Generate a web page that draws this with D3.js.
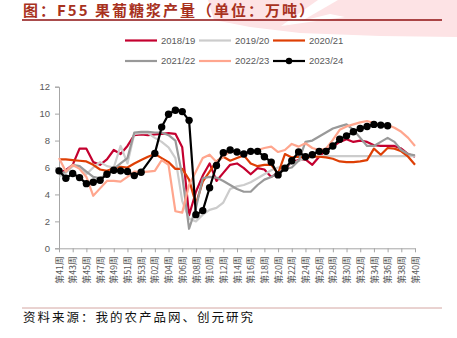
<!DOCTYPE html>
<html>
<head>
<meta charset="utf-8">
<script src="https://cdn.jsdelivr.net/npm/d3@7"></script>
<style>
  html, body { margin: 0; padding: 0; background: #fff; }
  svg { display: block; }
</style>
</head>
<body>
<svg id="chart" width="457" height="338"></svg>
<script>
// Marketing-year weeks: week 41 .. week 53, then week 01 .. week 40
const weeks = [41,42,43,44,45,46,47,48,49,50,51,52,53,1,2,3,4,5,6,7,8,9,10,11,12,13,14,15,16,17,18,19,20,21,22,23,24,25,26,27,28,29,30,31,32,33,34,35,36,37,38,39,40];
const weekLabels = weeks.map(w => "第" + String(w).padStart(2, "0") + "周");

const seasons = ["2018/19", "2019/20", "2020/21", "2021/22", "2022/23", "2023/24"];
const seasonColors = ["#C4002F", "#CCCCCC", "#DE3F05", "#999999", "#FFA68E", "#000000"];

// weekly output, 10k tonnes
const s2018 = [5.6,5.8,6.2,7.4,7.4,6.4,6.2,6.6,7.3,7.0,7.6,8.4,8.45,8.4,8.45,8.5,8.55,8.5,7.5,2.45,4.2,5.4,6.3,5.0,5.6,6.2,6.3,5.95,5.5,5.95,5.85,5.3,5.6,5.9,6.4,6.55,6.6,6.2,6.8,7.3,7.55,7.9,8.1,7.9,8.0,7.9,7.65,7.6,7.6,7.6,7.4,7.0,6.8];
const s2019 = [5.3,5.6,6.1,6.1,5.5,6.0,6.4,6.1,6.0,7.6,6.3,8.5,8.55,8.55,8.2,7.9,7.5,6.7,3.5,2.2,2.0,2.5,2.85,3.0,3.4,4.4,4.6,4.7,4.9,5.2,5.5,5.8,6.0,6.1,6.3,6.5,6.65,6.8,6.85,6.85,6.85,6.85,6.85,6.85,6.85,6.85,6.85,6.85,6.85,6.85,6.85,6.85,6.85];
const s2020 = [6.6,6.6,6.55,6.5,6.45,6.2,5.85,5.75,5.95,6.05,6.0,6.3,6.55,6.8,7.0,6.7,6.4,5.9,5.9,5.1,3.3,4.95,5.7,6.45,6.8,6.5,6.7,6.9,6.3,6.1,6.2,6.2,5.55,7.0,6.75,6.8,6.75,6.8,6.8,6.75,6.65,6.45,6.4,6.4,6.45,6.55,7.4,6.95,7.45,7.4,7.2,6.8,6.2];
const s2021 = [5.5,5.7,6.2,6.1,5.7,5.3,5.2,5.5,5.9,6.3,6.7,8.6,8.65,8.65,8.6,8.6,8.4,8.0,5.4,1.45,3.0,5.2,5.3,5.25,5.0,4.7,4.4,4.2,4.2,4.7,5.1,5.3,5.6,5.9,6.0,6.5,7.9,8.0,8.3,8.6,8.9,9.05,9.2,8.8,8.2,7.6,7.6,7.9,8.2,7.9,7.3,7.0,6.9];
const s2022 = [6.7,5.7,6.2,5.9,5.3,3.9,4.45,5.0,5.0,4.95,5.3,5.7,5.65,5.7,5.75,6.55,6.2,2.75,2.65,4.7,5.7,6.7,6.95,6.4,6.8,7.2,7.1,7.0,7.1,7.3,7.45,7.55,7.15,7.3,7.75,7.55,7.8,7.45,7.3,7.4,8.05,8.8,9.05,9.2,9.35,9.45,9.3,9.15,9.15,8.95,8.65,8.2,7.6];
const s2023 = [5.75,5.2,5.55,5.25,4.8,4.9,5.05,5.5,5.8,5.75,5.7,5.4,5.65,null,7.05,9.0,9.95,10.25,10.15,9.5,2.5,2.8,4.5,6.15,7.1,7.3,7.15,7.0,7.2,7.2,6.8,6.4,5.45,5.95,6.5,7.15,6.8,6.95,7.2,7.2,7.6,8.1,8.35,8.65,8.9,9.05,9.2,9.15,9.1,null,null,null,null];

const seriesValues = [s2018, s2019, s2020, s2021, s2022, s2023];
const yTicks = [0, 2, 4, 6, 8, 10, 12];

const svg = d3.select("#chart");

// faint watermark band across the top
svg.append("path")
  .attr("d", "M208,0 L457,0 L457,37 L380,36 L300,33 L250,27 L214,20 Z")
  .attr("fill", "#FDE3E5");
svg.append("path")
  .attr("d", "M281,26 L318,0 L338,0 L300,22 Z")
  .attr("fill", "#ffffff");
svg.append("path")
  .attr("d", "M281,26 L330,14 L345,17 Z")
  .attr("fill", "#ffffff");

// heading
svg.append("text")
  .attr("x", 23).attr("y", 16)
  .attr("font-family", "'Noto Sans CJK SC', sans-serif")
  .attr("font-weight", 700)
  .attr("font-size", 15)
  .attr("letter-spacing", 2)
  .attr("fill", "#A8321E")
  .text("图：F55 果葡糖浆产量（单位：万吨）");
svg.append("line")
  .attr("x1", 22).attr("x2", 442).attr("y1", 20).attr("y2", 20)
  .attr("stroke", "#8E1111").attr("stroke-width", 1.3);

// plot area
const x0 = 59, x1 = 415, yTop = 86.7, yBot = 248.3;
const x = d3.scalePoint().domain(d3.range(weeks.length)).range([x0, x1]);
const y = d3.scaleLinear().domain([0, 12]).range([yBot, yTop]);

// y axis
const yAxis = svg.append("g")
  .attr("transform", `translate(${x0},0)`)
  .call(d3.axisLeft(y).tickValues(yTicks).tickSize(4).tickPadding(5).tickFormat(d3.format("d")));
yAxis.select(".domain").attr("stroke", "#A6A6A6");
yAxis.selectAll(".tick line").attr("stroke", "#A6A6A6");
yAxis.selectAll("text")
  .attr("fill", "#595959")
  .attr("font-family", "'Liberation Sans', Arial, sans-serif")
  .attr("font-size", 9.5);

// x axis, labelled every second week
const labelIdx = d3.range(0, weeks.length, 2);
const xAxis = svg.append("g")
  .attr("transform", `translate(0,${yBot})`)
  .call(d3.axisBottom(x).tickValues(labelIdx).tickSize(4).tickSizeOuter(0)
    .tickFormat(i => weekLabels[i]));
xAxis.select(".domain").attr("stroke", "#A6A6A6");
xAxis.selectAll(".tick line").attr("stroke", "#A6A6A6");
xAxis.selectAll("text")
  .attr("fill", "#595959")
  .attr("font-family", "'Noto Sans CJK SC', sans-serif")
  .attr("font-size", 8.8)
  .attr("text-anchor", "end")
  .attr("dy", "0.35em")
  .attr("transform", "translate(0,4) rotate(-90)")
  .attr("x", -4).attr("y", 0);

// season lines
const line = d3.line()
  .x(d => x(d.i))
  .y(d => y(d.v));

seasons.forEach((name, k) => {
  const pts = seriesValues[k].map((v, i) => ({ i, v })).filter(d => d.v !== null);
  svg.append("path")
    .datum(pts)
    .attr("fill", "none")
    .attr("stroke", seasonColors[k])
    .attr("stroke-width", 2.2)
    .attr("stroke-linejoin", "round")
    .attr("d", line);
  if (name === "2023/24") {
    svg.append("g").selectAll("circle")
      .data(pts).join("circle")
      .attr("cx", d => x(d.i)).attr("cy", d => y(d.v))
      .attr("r", 3.7)
      .attr("fill", "#000");
  }
});

// legend, two rows of three
const legendPos = [
  [125, 40.5], [199, 40.5], [273, 40.5],
  [125, 61], [199, 61], [273, 61]
];
seasons.forEach((name, k) => {
  const [lx, ly] = legendPos[k];
  const g = svg.append("g");
  g.append("line")
    .attr("x1", lx).attr("x2", lx + 32).attr("y1", ly).attr("y2", ly)
    .attr("stroke", seasonColors[k]).attr("stroke-width", 2.2);
  if (name === "2023/24") {
    g.append("circle").attr("cx", lx + 16).attr("cy", ly).attr("r", 3.2).attr("fill", "#000");
  }
  g.append("text")
    .attr("x", lx + 36).attr("y", ly).attr("dy", "0.35em")
    .attr("font-family", "'Liberation Sans', Arial, sans-serif")
    .attr("font-size", 9.5)
    .attr("fill", "#595959")
    .text(name);
});

// source note
svg.append("line")
  .attr("x1", 22).attr("x2", 442).attr("y1", 308).attr("y2", 308)
  .attr("stroke", "#C9908C").attr("stroke-width", 0.8);
svg.append("text")
  .attr("x", 23).attr("y", 322)
  .attr("font-family", "'Noto Sans CJK SC', sans-serif")
  .attr("font-size", 12.5)
  .attr("letter-spacing", 2)
  .attr("fill", "#111")
  .text("资料来源：我的农产品网、创元研究");
</script>
</body>
</html>
